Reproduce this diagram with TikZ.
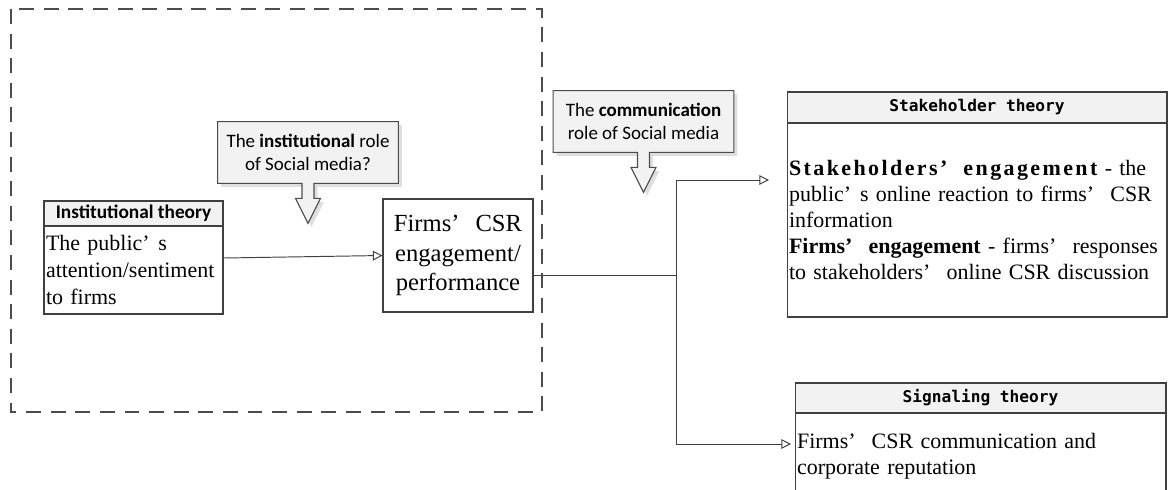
\documentclass[tikz,border=0pt]{standalone}
\usepackage{fontspec}
\setmainfont{Liberation Serif}
\newfontfamily\calibri{Carlito}
\newfontfamily\heiti{DejaVu Sans Mono}
\usetikzlibrary{arrows.meta,shadows,backgrounds}
\newcommand{\apo}{’\hspace{0.4em}}
\tikzset{
  zone/.style={draw=black!70, line width=0.6pt, dash pattern=on 8.5pt off 5.5pt},
  theorybox/.style={draw=black!75, line width=0.6pt, inner xsep=0.04cm, inner ysep=0pt},
  theoryhead/.style={theorybox, fill=black!5, align=center},
  theorytext/.style={theorybox, align=left, font=\fontsize{12.5}{15}\selectfont},
  monohead/.style={theoryhead, font=\heiti\bfseries\fontsize{9.2}{11}\selectfont},
  callouttext/.style={font=\calibri\fontsize{10.8}{12.8}\selectfont, align=center,
    minimum width=3.6cm, minimum height=1.22cm, inner sep=0pt},
  calloutbox/.style={fill=black!5, draw=black!70, line width=0.6pt,
    drop shadow={shadow xshift=0.07cm, shadow yshift=-0.07cm, opacity=0.25}},
  flow/.style={draw=black!75, line width=0.55pt, -{Triangle[open,length=5.5pt,width=5.5pt]}}
}
\begin{document}
\begin{tikzpicture}[x=0.02cm,y=-0.02cm]
    \useasboundingbox (0,0) rectangle (1170,490);
    \clip (0,0) rectangle (1170,490);
    % institutional part
    \draw[zone] (11,9) rectangle (542,412);
    \node[theoryhead, font=\calibri\bfseries\fontsize{11}{12}\selectfont,
        minimum width=3.58cm, minimum height=0.5cm] (insthead) at (133.5,213.5) {Institutional theory};
    \node[theorytext, text width=3.5cm, minimum height=1.76cm,
        font=\fontsize{12.5}{15.3}\selectfont] (instbody) at (133.5,270) {The public\apo s\\attention/sentiment\\to firms};
    \node[theorybox, align=center, minimum width=3cm, minimum height=2.26cm,
        font=\fontsize{14}{17}\selectfont] (csr) at (458,255.5) {Firms\apo{} CSR\\engagement/\\performance};
    \node[callouttext] (instrole) at (308,152.5) {The \textbf{institutional} role\\of Social media?};
    \node[callouttext] (commrole) at (643.5,121.5) {The \textbf{communication}\\role of Social media};
    % theories on the right
    \node[monohead, minimum width=7.6cm, minimum height=0.62cm] (stakehead) at (977,107.5) {Stakeholder theory};
    \node[theorytext, text width=7.52cm, minimum height=3.88cm,
        font=\fontsize{12.5}{14.8}\selectfont] (stakebody) at (977,220) {%
        \makebox[7.52cm][s]{{\bfseries\addfontfeature{LetterSpace=11}Stakeholders\apo{} engagement} - the}\\
        \makebox[7.52cm][s]{public\apo s online reaction to firms\apo{} CSR}\\
        information\\
        \makebox[7.52cm][s]{\textbf{Firms\apo{} engagement} - firms\apo{} responses}\\
        to stakeholders\apo{} online CSR discussion};
    \node[monohead, minimum width=7.42cm, minimum height=0.6cm] (signhead) at (980.5,398) {Signaling theory};
    \node[theorytext, text width=7.34cm, minimum height=1.74cm] (signbody) at (980.5,456.5)
        {Firms\apo{} CSR communication and\\corporate reputation};
    % callout arrows
    \begin{scope}[on background layer]
        \foreach \c in {instrole,commrole} {
            \path[calloutbox] (\c.north west) -- (\c.north east) -- (\c.south east)
                -- ([xshift=0.12cm]\c.south) -- ++(0,15) -- ++(6.5,0) -- ++(-12.5,25)
                -- ++(-12.5,-25) -- ++(6.5,0) -- ([xshift=-0.12cm]\c.south) -- (\c.south west) -- cycle;
        }
    \end{scope}
    % connectors
    \coordinate (split) at (676,275);
    \coordinate (stakein) at (769,180);
    \coordinate (signin) at (791,444);
    \draw[flow] ([yshift=0.24cm]instbody.east) -- (csr.west);
    \draw[draw=black!75, line width=0.55pt] (csr.east |- split) -- (split);
    \draw[flow] (split) |- (stakein);
    \draw[flow] (split) |- (signin);
\end{tikzpicture}
\end{document}
